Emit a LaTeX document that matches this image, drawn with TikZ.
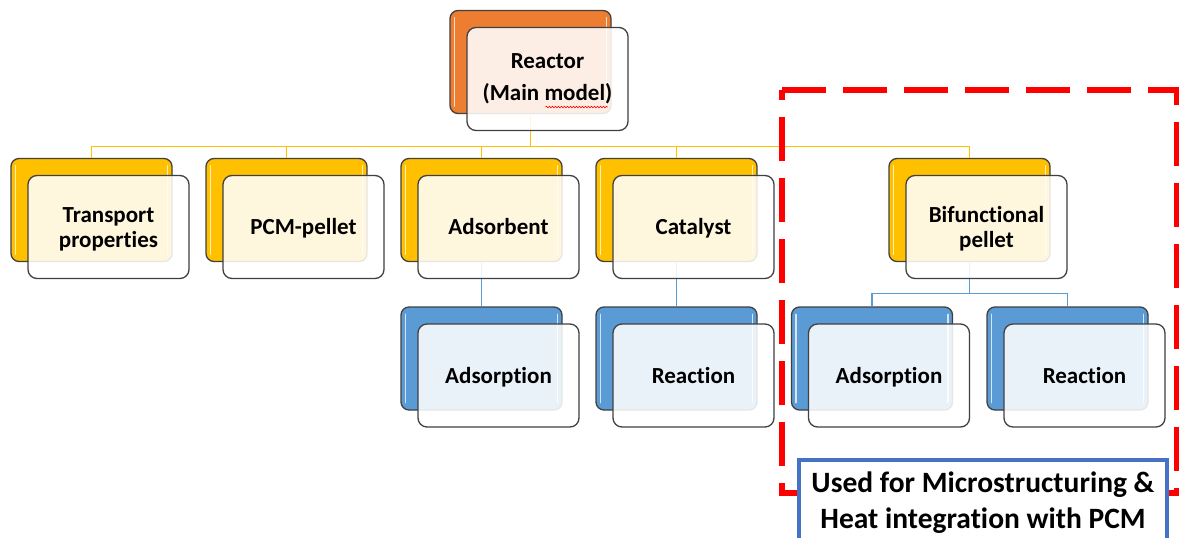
\documentclass[tikz,border=0pt]{standalone}
\usepackage{fontspec}
\setmainfont{Carlito}[Ligatures=NoCommon]
\usetikzlibrary{calc,decorations.pathmorphing}

\definecolor{edgegray}{HTML}{404040}
\definecolor{orangefill}{HTML}{ED7D31}
\definecolor{goldfill}{HTML}{FFC000}
\definecolor{bluefill}{HTML}{5B9BD5}
\definecolor{notered}{HTML}{FF0000}
\definecolor{noteblue}{HTML}{4472C4}

\tikzset{
  backbox/.style={draw=edgegray, line width=1.3pt, rounded corners=8pt,
    minimum width=161pt, minimum height=103pt, inner sep=0pt},
  frontbox/.style={draw=edgegray, line width=1.3pt, rounded corners=9pt,
    fill=white, fill opacity=0.87, text opacity=1,
    minimum width=161pt, minimum height=103pt, inner sep=0pt, align=center,
    font=\bfseries\fontsize{23}{25}\selectfont},
  gloss/.style={white, line width=1.6pt, opacity=0.75, line cap=round},
  goldlink/.style={draw=goldfill, line width=1.2pt},
  bluelink/.style={draw=bluefill, line width=1.2pt},
  groupframe/.style={draw=notered, line width=5.5pt, dash pattern=on 44pt off 17pt},
  notebox/.style={draw=noteblue, line width=3.2pt, fill=white,
    minimum width=368pt, minimum height=86pt, inner sep=0pt, align=center,
    font=\bfseries\fontsize{29.5}{36}\selectfont},
}

% coloured back card with glossy edges
\newcommand\tierback[4]{%
  \node[backbox, fill=#4] (#1-b) at (#2,#3) {};
  \draw[gloss] ($(#1-b.north west)+(5,8)$) -- ($(#1-b.south west)+(5,-8)$);
  \draw[gloss] ($(#1-b.north east)+(-5,8)$) -- ($(#1-b.south east)+(-5,-8)$);
}
% translucent front card carrying the label (optional drop of the text)
\newcommand\tierfront[3][2.5pt]{%
  \node[frontbox] (#2) at ($(#2-b.center)+(17,17)$)
    {\raisebox{-#1}[\height][\depth]{\begin{tabular}{@{}c@{}}#3\end{tabular}}};
}

\begin{document}
\begin{tikzpicture}[x=1pt, y=-1pt]
\useasboundingbox (0,0) rectangle (1179,538);

% back cards
\tierback{reactor}{530.5}{62}{orangefill}
\tierback{transport}{91.5}{210}{goldfill}
\tierback{pcm}{286.5}{210}{goldfill}
\tierback{adsorbent}{481.5}{210}{goldfill}
\tierback{catalyst}{676.5}{210}{goldfill}
\tierback{bif}{969.5}{210}{goldfill}
\tierback{adsorption}{481.5}{358.5}{bluefill}
\tierback{reaction}{676.5}{358.5}{bluefill}
\tierback{adsorptionB}{872}{358.5}{bluefill}
\tierback{reactionB}{1067.5}{358.5}{bluefill}

% connectors
\foreach \c in {transport,pcm,adsorbent,catalyst,bif}
  \draw[goldlink] (reactor-b.south) -- ++(0,32) -| (\c-b.north);
\draw[bluelink] (adsorbent-b.south) -- (adsorption-b.north);
\draw[bluelink] (catalyst-b.south) -- (reaction-b.north);
\draw[bluelink] (bif-b.south) -- ++(0,31) -| (adsorptionB-b.north);
\draw[bluelink] (bif-b.south) -- ++(0,31) -| (reactionB-b.north);

% front cards
\tierfront[0pt]{reactor}{Reactor\\[7pt](Main model)}
\tierfront{transport}{Transport\\properties}
\tierfront{pcm}{PCM-pellet}
\tierfront{adsorbent}{Adsorbent}
\tierfront{catalyst}{Catalyst}
\tierfront{bif}{Bifunctional\\pellet}
\tierfront{adsorption}{Adsorption}
\tierfront{reaction}{Reaction}
\tierfront{adsorptionB}{Adsorption}
\tierfront{reactionB}{Reaction}

% spell-check squiggle under "model"
\draw[notered, line width=0.6pt, decorate,
  decoration={snake, amplitude=0.8pt, segment length=3pt}]
  ($(reactor.center)+(-2,28)$) -- ($(reactor.center)+(60,28)$);

% dashed frame around the bifunctional branch
\draw[groupframe] (782,90) -- (1177,90) -- (1177,493) -- (782,493) -- cycle;

% note box
\node[notebox] (note) at (983,503) {Used for Microstructuring \&\\Heat integration with PCM};
\end{tikzpicture}
\end{document}
